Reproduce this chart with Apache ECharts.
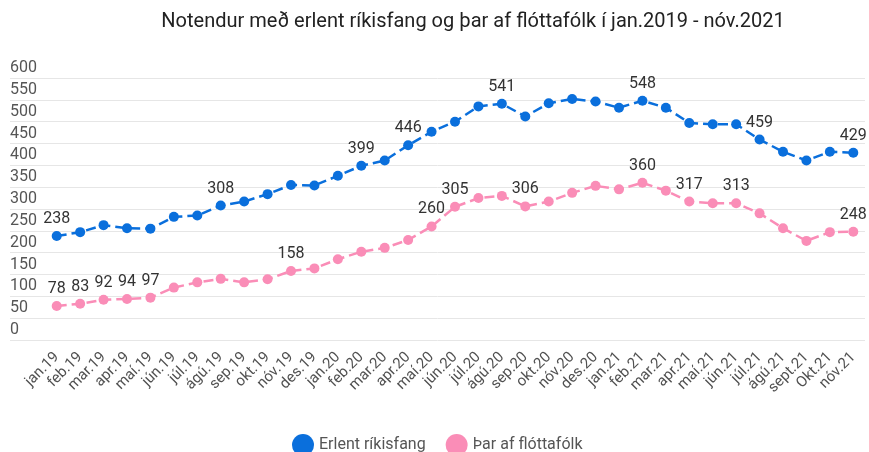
<!DOCTYPE html>
<html>
<head>
<meta charset="utf-8">
<script src="https://cdn.jsdelivr.net/npm/echarts@6/dist/echarts.min.js"></script>
<style>
  html, body { margin: 0; padding: 0; background: #fff; }
  #chart { width: 869px; height: 452px; }
</style>
</head>
<body>
<div id="chart"></div>
<script>
var months = [
  "jan.19", "feb.19", "mar.19", "apr.19", "maí.19", "jún.19", "júl.19", "ágú.19", "sep.19", "okt.19", "nóv.19", "des.19",
  "jan.20", "feb.20", "mar.20", "apr.20", "maí.20", "jún.20", "júl.20", "ágú.20", "sep.20", "okt.20", "nóv.20", "des.20",
  "jan.21", "feb.21", "mar.21", "apr.21", "maí.21", "jún.21", "júl.21", "ágú.21", "sept.21", "Okt.21", "nóv.21"
];
var erlent = [
  238, 247, 263, 256, 255, 282, 285, 308, 317, 334, 355, 354,
  376, 399, 411, 446, 477, 500, 535, 541, 512, 542, 552, 546,
  532, 548, 532, 497, 494, 494, 459, 431, 411, 431, 429
];
var flottafolk = [
  78, 83, 92, 94, 97, 120, 132, 140, 132, 139, 158, 164,
  185, 202, 211, 229, 260, 305, 325, 330, 306, 317, 337, 353,
  345, 360, 342, 317, 313, 313, 290, 256, 227, 247, 248
];
// which points get a value label
var erlentLabels = [0, 7, 13, 15, 19, 25, 30, 34];
var flottaLabels = [0, 1, 2, 3, 4, 10, 16, 17, 20, 25, 27, 29, 34];

var blue = "#0a6fdc";
var pink = "#fa8db7";

function withLabels(values, idx) {
  return values.map(function (v, i) {
    return { value: v, label: { show: idx.indexOf(i) > -1 } };
  });
}

var chart = echarts.init(document.getElementById("chart"));
var option = {
  animation: false,
  textStyle: { fontFamily: "Roboto" },
  title: {
    text: "Notendur með erlent ríkisfang og þar af flóttafólk í jan.2019 - nóv.2021",
    left: 468,
    textAlign: "center",
    top: 7,
    textStyle: { fontSize: 20, fontWeight: "normal", color: "#222", fontFamily: "Roboto" }
  },
  legend: {
    bottom: -9,
    left: 287,
    icon: "circle",
    itemWidth: 22,
    itemHeight: 22,
    itemGap: 20,
    textStyle: { fontSize: 16, color: "#555", fontFamily: "Roboto" },
    data: ["Erlent ríkisfang", "Þar af flóttafólk"]
  },
  grid: [
    { left: 10, right: 4, top: 78, bottom: 112 },
    { left: 45, right: 4, top: 78, bottom: 112 }
  ],
  xAxis: [
    { gridIndex: 0, type: "value", show: false },
    {
      gridIndex: 1,
      type: "category",
      data: months,
      axisLine: { show: false },
      axisTick: { show: false },
      axisLabel: { rotate: 45, interval: 0, fontSize: 15, color: "#505050", margin: 15 }
    }
  ],
  yAxis: [
    {
      gridIndex: 0,
      type: "value",
      min: 0,
      max: 600,
      interval: 50,
      axisLine: { show: false },
      axisTick: { show: false },
      axisLabel: {
        inside: true,
        margin: 0,
        verticalAlign: "bottom",
        padding: [0, 0, 2, 0],
        fontSize: 16,
        color: "#555"
      },
      splitLine: { lineStyle: { color: "#e6e6e6", width: 1 } }
    },
    { gridIndex: 1, type: "value", min: 0, max: 600, show: false }
  ],
  series: [
    {
      name: "Erlent ríkisfang",
      type: "line",
      xAxisIndex: 1,
      yAxisIndex: 1,
      data: withLabels(erlent, erlentLabels),
      color: blue,
      symbol: "circle",
      symbolSize: 10,
      lineStyle: { width: 2.5, type: [10, 5] },
      label: { position: "top", fontSize: 16, color: "#333", distance: 4 }
    },
    {
      name: "Þar af flóttafólk",
      type: "line",
      xAxisIndex: 1,
      yAxisIndex: 1,
      data: withLabels(flottafolk, flottaLabels),
      color: pink,
      symbol: "circle",
      symbolSize: 10,
      lineStyle: { width: 2.5, type: [10, 5] },
      label: { position: "top", fontSize: 16, color: "#333", distance: 4 }
    }
  ]
};
chart.setOption(option);
</script>
</body>
</html>
